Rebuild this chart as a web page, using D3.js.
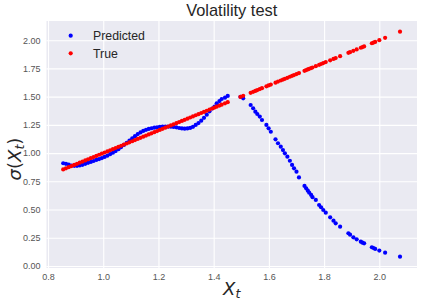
<!DOCTYPE html>
<html>
<head>
<meta charset="utf-8">
<script src="https://cdn.jsdelivr.net/npm/d3@7"></script>
<style>
  body { margin: 0; background: #ffffff; }
  svg { display: block; }
</style>
</head>
<body>
<svg id="chart" width="423" height="301"></svg>
<script>
// sampled X_t values (shared by both series)
var xValues = [0.855, 0.865, 0.875, 0.885, 0.895, 0.905, 0.915, 0.925, 0.935, 0.945,
  0.955, 0.965, 0.975, 0.985, 0.995, 1.005, 1.015, 1.025, 1.035, 1.045,
  1.055, 1.065, 1.075, 1.085, 1.095, 1.105, 1.115, 1.125, 1.135, 1.145,
  1.155, 1.165, 1.175, 1.185, 1.195, 1.205, 1.215, 1.225, 1.235, 1.245,
  1.255, 1.265, 1.275, 1.285, 1.295, 1.305, 1.315, 1.325, 1.335, 1.345,
  1.355, 1.365, 1.375, 1.385, 1.395,
  1.403, 1.411, 1.421, 1.429, 1.441, 1.451,
  1.497, 1.507, 1.534, 1.543, 1.551, 1.558, 1.567, 1.575, 1.591, 1.599,
  1.607, 1.624, 1.633, 1.643, 1.651, 1.658, 1.667, 1.676, 1.684, 1.691,
  1.700, 1.709, 1.729, 1.735, 1.741, 1.746, 1.753, 1.758, 1.770, 1.782,
  1.789, 1.797, 1.806, 1.822, 1.834, 1.842, 1.858, 1.888, 1.894, 1.906,
  1.918, 1.933, 1.939, 1.945, 1.973, 1.979, 1.985, 2.000, 2.021, 2.075];

var predictedValues = [0.910, 0.905, 0.897, 0.890, 0.887, 0.887, 0.890, 0.896, 0.905, 0.914,
  0.922, 0.930, 0.939, 0.947, 0.956, 0.966, 0.977, 0.990, 1.003, 1.018,
  1.035, 1.053, 1.072, 1.090, 1.110, 1.130, 1.150, 1.168, 1.183, 1.196,
  1.206, 1.214, 1.220, 1.225, 1.229, 1.232, 1.234, 1.235, 1.235, 1.234,
  1.232, 1.228, 1.222, 1.218, 1.216, 1.218, 1.223, 1.233, 1.249, 1.266,
  1.287, 1.312, 1.340, 1.370, 1.395,
  1.411, 1.441, 1.461, 1.479, 1.491, 1.506,
  1.498, 1.485, 1.426, 1.397, 1.367, 1.346, 1.323, 1.293, 1.249, 1.219,
  1.189, 1.122, 1.087, 1.057, 1.027, 0.998, 0.968, 0.932, 0.895, 0.865,
  0.835, 0.784, 0.709, 0.688, 0.667, 0.649, 0.629, 0.609, 0.585, 0.540,
  0.520, 0.496, 0.472, 0.431, 0.401, 0.378, 0.348, 0.290, 0.277, 0.254,
  0.236, 0.215, 0.206, 0.201, 0.166, 0.159, 0.151, 0.136, 0.118, 0.082];

var trueValues = [0.855, 0.865, 0.875, 0.885, 0.895, 0.905, 0.915, 0.925, 0.935, 0.945,
  0.955, 0.965, 0.975, 0.985, 0.995, 1.005, 1.015, 1.025, 1.035, 1.045,
  1.055, 1.065, 1.075, 1.085, 1.095, 1.105, 1.115, 1.125, 1.135, 1.145,
  1.155, 1.165, 1.175, 1.185, 1.195, 1.205, 1.215, 1.225, 1.235, 1.245,
  1.255, 1.265, 1.275, 1.285, 1.295, 1.305, 1.315, 1.325, 1.335, 1.345,
  1.355, 1.365, 1.375, 1.385, 1.395,
  1.403, 1.411, 1.421, 1.429, 1.441, 1.451,
  1.497, 1.507, 1.534, 1.543, 1.551, 1.558, 1.567, 1.575, 1.591, 1.599,
  1.607, 1.624, 1.633, 1.643, 1.651, 1.658, 1.667, 1.676, 1.684, 1.691,
  1.700, 1.709, 1.729, 1.735, 1.741, 1.746, 1.753, 1.758, 1.770, 1.782,
  1.789, 1.797, 1.806, 1.822, 1.834, 1.842, 1.858, 1.888, 1.894, 1.906,
  1.918, 1.933, 1.939, 1.945, 1.973, 1.979, 1.985, 2.000, 2.021, 2.075];

var xTicks = [0.8, 1.0, 1.2, 1.4, 1.6, 1.8, 2.0];
var yTicks = [0.00, 0.25, 0.50, 0.75, 1.00, 1.25, 1.50, 1.75, 2.00];

var plotLeft = 46.5, plotRight = 417, plotTop = 21, plotBottom = 268;
var font = "'Liberation Sans', Arial, sans-serif";
var dotRadius = 2.1;

var svg = d3.select("#chart");

var x = d3.scaleLinear()
  .domain([0.7945, 2.1365])
  .range([plotLeft, plotRight]);

var y = d3.scaleLinear()
  .domain([-0.018, 2.17])
  .range([plotBottom, plotTop]);

svg.append("rect")
  .attr("x", plotLeft)
  .attr("y", plotTop)
  .attr("width", plotRight - plotLeft)
  .attr("height", plotBottom - plotTop)
  .attr("fill", "#eaeaf2");

// grid lines + tick labels via d3 axes
var xAxis = svg.append("g")
  .attr("transform", "translate(0," + plotBottom + ")")
  .call(d3.axisBottom(x).tickValues(xTicks).tickFormat(d3.format(".1f"))
    .tickSize(-(plotBottom - plotTop)).tickPadding(6));

var yAxis = svg.append("g")
  .attr("transform", "translate(" + plotLeft + ",0)")
  .call(d3.axisLeft(y).tickValues(yTicks).tickFormat(d3.format(".2f"))
    .tickSize(-(plotRight - plotLeft)).tickPadding(6));

[xAxis, yAxis].forEach(function(axis) {
  axis.select(".domain").remove();
  axis.selectAll(".tick line").attr("stroke", "#ffffff").attr("stroke-width", 1.1);
  axis.selectAll(".tick text")
    .attr("fill", "#555555")
    .style("font-family", font)
    .style("font-size", "9px");
});

var points = xValues.map(function(d, i) {
  return { x: d, predicted: predictedValues[i], actual: trueValues[i] };
});

var dots = svg.append("g");

dots.selectAll(".predicted")
  .data(points)
  .enter()
  .append("circle")
  .attr("class", "predicted")
  .attr("cx", function(d) { return x(d.x); })
  .attr("cy", function(d) { return y(d.predicted); })
  .attr("r", dotRadius)
  .attr("fill", "#0000ff");

dots.selectAll(".actual")
  .data(points)
  .enter()
  .append("circle")
  .attr("class", "actual")
  .attr("cx", function(d) { return x(d.x); })
  .attr("cy", function(d) { return y(d.actual); })
  .attr("r", dotRadius)
  .attr("fill", "#ff0000");

// legend
var legendItems = [{ label: "Predicted", color: "#0000ff" }, { label: "True", color: "#ff0000" }];
var legend = svg.append("g");
legend.selectAll("circle")
  .data(legendItems)
  .enter()
  .append("circle")
  .attr("cx", 70.7)
  .attr("cy", function(d, i) { return 35.7 + i * 17.6; })
  .attr("r", dotRadius)
  .attr("fill", function(d) { return d.color; });
legend.selectAll("text")
  .data(legendItems)
  .enter()
  .append("text")
  .attr("x", 93)
  .attr("y", function(d, i) { return 40 + i * 17.6; })
  .attr("fill", "#262626")
  .style("font-family", font)
  .style("font-size", "12.3px")
  .text(function(d) { return d.label; });

// title
svg.append("text")
  .attr("x", (plotLeft + plotRight) / 2)
  .attr("y", 16)
  .attr("text-anchor", "middle")
  .attr("fill", "#262626")
  .style("font-family", font)
  .style("font-size", "16.4px")
  .text("Volatility test");

// x label: X_t
var xLabel = svg.append("text")
  .attr("x", (plotLeft + plotRight) / 2)
  .attr("y", 295)
  .attr("text-anchor", "middle")
  .attr("fill", "#262626")
  .style("font-family", "'DejaVu Sans', sans-serif")
  .style("font-style", "italic")
  .style("font-size", "18px");
xLabel.append("tspan").text("X");
xLabel.append("tspan").attr("dy", 2.5).style("font-size", "12.6px").text("t");

// y label: sigma(X_t)
var yLabel = svg.append("text")
  .attr("transform", "translate(21,159) rotate(-90)")
  .attr("text-anchor", "middle")
  .attr("fill", "#262626")
  .style("font-family", "'DejaVu Sans', sans-serif")
  .style("font-size", "18px");
yLabel.append("tspan").style("font-style", "italic").text("σ");
yLabel.append("tspan").text("(");
yLabel.append("tspan").style("font-style", "italic").text("X");
yLabel.append("tspan").attr("dy", 3).style("font-style", "italic").style("font-size", "12.6px").text("t");
yLabel.append("tspan").attr("dy", -3).text(")");
</script>
</body>
</html>
